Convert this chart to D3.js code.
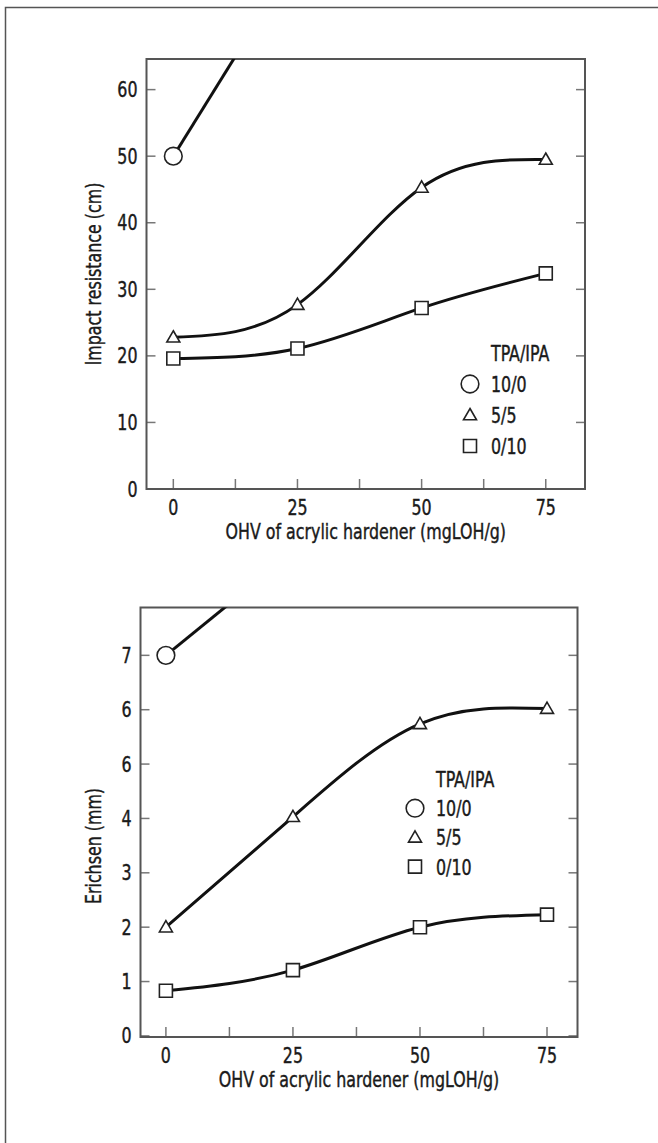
<!DOCTYPE html>
<html>
<head>
<meta charset="utf-8">
<script src="https://cdn.jsdelivr.net/npm/d3@7/dist/d3.min.js"></script>
<style>
  body { margin: 0; background: #fff; }
  svg text { font-family: "Liberation Sans Narrow", "DejaVu Sans Condensed", "DejaVu Sans", sans-serif; font-stretch: condensed; fill: #1a1a1a; stroke: #1a1a1a; stroke-width: 0.4; }
</style>
</head>
<body>
<svg id="chart" width="658" height="1143"></svg>
<script>
// OHV of acrylic hardener (mgLOH/g)
var ohv = [0, 25, 50, 75];
var ohv10_0 = [0, 25];            // 10/0 line runs off the top of both panels
var xTicks = [0, 25, 50, 75];
var xMinorTicks = [0, 12.5, 25, 37.5, 50, 62.5, 75];

var seriesNames = ['10/0', '5/5', '0/10'];
var legendTitle = 'TPA/IPA';

// impact resistance (cm)
var impact10_0 = [50, 80];
var impact5_5 = [22.8, 27.7, 45.3, 49.5];
var impact0_10 = [19.6, 21.1, 27.2, 32.4];
var impactTicks = [0, 10, 20, 30, 40, 50, 60];
var impactTickLabels = ['0', '10', '20', '30', '40', '50', '60'];

// Erichsen (mm)
var erichsen10_0 = [7.0, 8.9];
var erichsen5_5 = [2.0, 4.03, 5.74, 6.02];
var erichsen0_10 = [0.83, 1.21, 2.0, 2.23];
var erichsenTicks = [0, 1, 2, 3, 4, 5, 6, 7];
var erichsenTickLabels = ['0', '1', '2', '3', '4', '6', '6', '7'];

var svg = d3.select('#chart');
var frameColor = '#555';
var fontSize = 21;
var squeeze = 0.84;   // the original face is narrower than what we have

// page border
svg.append('rect')
  .attr('x', 5.5)
  .attr('y', 7.5)
  .attr('width', 700)
  .attr('height', 1200)
  .attr('fill', 'none')
  .attr('stroke', frameColor)
  .attr('stroke-width', 1.5);

// condensed text: scale horizontally around the anchor point
function label(g, x, y, str, anchor) {
  return g.append('text')
    .attr('transform', 'translate(' + x + ',' + y + ') scale(' + squeeze + ',1)')
    .attr('text-anchor', anchor || 'start')
    .attr('font-size', fontSize)
    .text(str);
}

function markerPath(name, size) {
  if (name === '5/5') {
    return d3.symbol().type(d3.symbolTriangle).size(size * size * 0.433)();
  }
  return d3.symbol().type(d3.symbolSquare).size(size * size)();
}

function drawMarker(g, name, cx, cy, size) {
  if (name === '10/0') {
    g.append('circle')
      .attr('cx', cx)
      .attr('cy', cy)
      .attr('r', size * 0.68)
      .attr('fill', '#fff')
      .attr('stroke', '#222')
      .attr('stroke-width', 1.6);
  } else {
    g.append('path')
      .attr('d', markerPath(name, size))
      .attr('transform', 'translate(' + cx + ',' + (cy + (name === '5/5' ? 1 : 0)) + ')')
      .attr('fill', '#fff')
      .attr('stroke', '#222')
      .attr('stroke-width', 1.6);
  }
}

function drawPanel(p) {
  var x = d3.scaleLinear().domain(p.xDomain).range([p.left, p.right]);
  var y = d3.scaleLinear().domain(p.yDomain).range([p.bottom, p.top]);
  var g = svg.append('g');

  g.append('clipPath')
    .attr('id', p.id + '-clip')
    .append('rect')
    .attr('x', p.left)
    .attr('y', p.top)
    .attr('width', p.right - p.left)
    .attr('height', p.bottom - p.top);

  // inward ticks: bottom, left and right
  g.selectAll('.xtick')
    .data(xMinorTicks)
    .enter().append('line')
    .attr('x1', function(d) { return x(d); })
    .attr('x2', function(d) { return x(d); })
    .attr('y1', p.bottom)
    .attr('y2', p.bottom - 10)
    .attr('stroke', '#777')
    .attr('stroke-width', 1.5);

  g.selectAll('.ytickl')
    .data(p.yTicks)
    .enter().append('line')
    .attr('x1', p.left)
    .attr('x2', p.left + 9)
    .attr('y1', function(d) { return y(d); })
    .attr('y2', function(d) { return y(d); })
    .attr('stroke', '#777')
    .attr('stroke-width', 1.5);

  g.selectAll('.ytickr')
    .data(p.yTicks)
    .enter().append('line')
    .attr('x1', p.right)
    .attr('x2', p.right - 9)
    .attr('y1', function(d) { return y(d); })
    .attr('y2', function(d) { return y(d); })
    .attr('stroke', '#777')
    .attr('stroke-width', 1.5);

  g.append('rect')
    .attr('x', p.left)
    .attr('y', p.top)
    .attr('width', p.right - p.left)
    .attr('height', p.bottom - p.top)
    .attr('fill', 'none')
    .attr('stroke', frameColor)
    .attr('stroke-width', 2);

  // tick labels
  xTicks.forEach(function(d) {
    label(g, x(d), p.bottom + 26, d, 'middle');
  });
  p.yTicks.forEach(function(d, i) {
    label(g, p.left - 9, y(d) + 7.5, p.yTickLabels[i], 'end');
  });

  // axis titles
  label(g, (p.left + p.right) / 2, p.bottom + 50, 'OHV of acrylic hardener (mgLOH/g)', 'middle');

  g.append('text')
    .attr('transform', 'translate(' + (p.yTitleX + 7) + ',' + p.yTitleY + ') rotate(-90) scale(' + squeeze + ',1)')
    .attr('text-anchor', 'middle')
    .attr('font-size', fontSize)
    .text(p.yTitle);

  // series
  var line = d3.line()
    .curve(d3.curveNatural)
    .x(function(d) { return x(d[0]); })
    .y(function(d) { return y(d[1]); });

  var plot = g.append('g').attr('clip-path', 'url(#' + p.id + '-clip)');

  p.series.forEach(function(s) {
    var pts = s.xs.map(function(v, i) { return [v, s.ys[i]]; });
    plot.append('path')
      .attr('d', line(pts))
      .attr('fill', 'none')
      .attr('stroke', '#111')
      .attr('stroke-width', 3);
  });

  p.series.forEach(function(s) {
    s.xs.forEach(function(v, i) {
      drawMarker(plot, s.name, x(v), y(s.ys[i]), 13);
    });
  });

  // legend
  var lg = g.append('g');
  label(lg, p.legendX + 21, p.legendY + 8, legendTitle);
  seriesNames.forEach(function(name, i) {
    var cy = p.legendY + (i + 1) * p.legendStep;
    drawMarker(lg, name, p.legendX, cy, 13);
    label(lg, p.legendX + 21, cy + 8, name);
  });
}

drawPanel({
  id: 'impact',
  left: 146.5, right: 585, top: 59, bottom: 489,
  xDomain: [-5.4, 82.9],
  yDomain: [0, 64.6],
  yTicks: impactTicks,
  yTickLabels: impactTickLabels,
  yTitle: 'Impact resistance (cm)',
  yTitleX: 94, yTitleY: 274,
  legendX: 470, legendY: 353, legendStep: 31,
  series: [
    { name: '10/0', xs: ohv10_0, ys: impact10_0 },
    { name: '5/5', xs: ohv, ys: impact5_5 },
    { name: '0/10', xs: ohv, ys: impact0_10 }
  ]
});

drawPanel({
  id: 'erichsen',
  left: 140.5, right: 577.5, top: 607.5, bottom: 1037,
  xDomain: [-5, 81],
  yDomain: [-0.02, 7.88],
  yTicks: erichsenTicks,
  yTickLabels: erichsenTickLabels,
  yTitle: 'Erichsen (mm)',
  yTitleX: 94, yTitleY: 846,
  legendX: 415, legendY: 779, legendStep: 29.2,
  series: [
    { name: '10/0', xs: ohv10_0, ys: erichsen10_0 },
    { name: '5/5', xs: ohv, ys: erichsen5_5 },
    { name: '0/10', xs: ohv, ys: erichsen0_10 }
  ]
});
</script>
</body>
</html>
